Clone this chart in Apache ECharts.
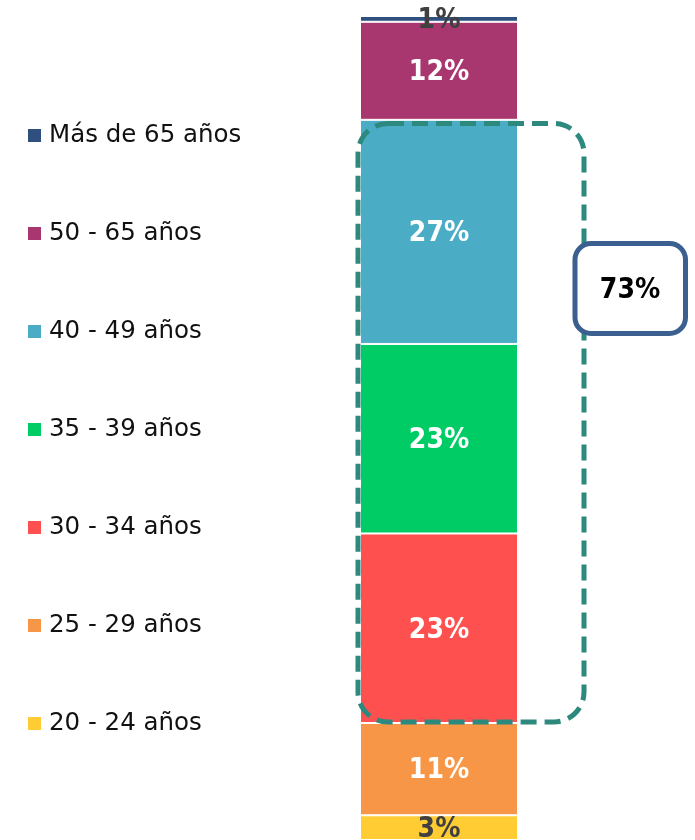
<!DOCTYPE html>
<html>
<head>
<meta charset="utf-8">
<script src="https://cdn.jsdelivr.net/npm/echarts@6/dist/echarts.min.js"></script>
<style>
  html, body { margin: 0; padding: 0; background: #fff; }
  #chart { width: 695px; height: 840px; }
</style>
</head>
<body>
<div id="chart"></div>
<script>
// age groups, bottom of the stack first
const groups = ['20 - 24 años', '25 - 29 años', '30 - 34 años', '35 - 39 años', '40 - 49 años', '50 - 65 años', 'Más de 65 años'];
const shares = [3.0, 11.2, 23.0, 23.0, 27.2, 11.9, 0.7];
const colors = ['#FFCD33', '#F79646', '#FF5050', '#00CC66', '#4BACC6', '#A9376F', '#2F4F7F'];
const darkLabel = ['20 - 24 años', 'Más de 65 años'];
// groups inside the dashed bracket
const bracketGroups = ['30 - 34 años', '35 - 39 años', '40 - 49 años'];

const FONT = 'DejaVu Sans';
const LABEL_FONT = 'DejaVu Sans Condensed';
const bracketTotal = bracketGroups
  .map(g => Math.round(shares[groups.indexOf(g)]))
  .reduce((a, b) => a + b, 0);

const chart = echarts.init(document.getElementById('chart'));

const series = groups.map((name, i) => ({
  name,
  type: 'bar',
  stack: 'total',
  barWidth: '100%',
  data: [shares[i]],
  itemStyle: { color: colors[i], borderColor: '#fff', borderWidth: 1 },
  label: {
    show: true,
    position: 'inside',
    offset: [0, 2],
    formatter: p => Math.round(p.value) + '%',
    color: darkLabel.includes(name) ? '#404040' : '#fff',
    fontFamily: LABEL_FONT,
    fontWeight: 'bold',
    fontSize: 28
  },
  emphasis: { disabled: true }
}));

chart.setOption({
  animation: false,
  grid: { left: 360, top: 16, width: 158, height: 825 },
  xAxis: { type: 'category', data: [''], show: false },
  yAxis: { type: 'value', min: 0, max: 100, show: false },
  legend: {
    orient: 'vertical',
    left: 26,
    top: 123,
    padding: 0,
    itemGap: 73,
    itemWidth: 15,
    itemHeight: 15,
    icon: 'rect',
    selectedMode: false,
    data: groups.slice().reverse(),
    textStyle: {
      fontFamily: FONT,
      fontSize: 24.5,
      lineHeight: 24,
      color: '#111',
      padding: [0, 0, 0, 2]
    }
  },
  series,
  graphic: [
    {
      type: 'rect',
      z: 100,
      shape: { x: 358, y: 123.5, width: 226, height: 598.5, r: 30 },
      style: { fill: 'none', stroke: '#2D897E', lineWidth: 5, lineDash: [16, 8] }
    },
    {
      type: 'rect',
      z: 101,
      shape: { x: 575, y: 243.5, width: 110.5, height: 90, r: 16 },
      style: { fill: '#fff', stroke: '#3B5F8F', lineWidth: 5 }
    },
    {
      type: 'text',
      z: 102,
      x: 630,
      y: 291,
      style: {
        text: bracketTotal + '%',
        fill: '#000',
        font: 'bold 28px "' + LABEL_FONT + '"',
        align: 'center',
        verticalAlign: 'middle'
      }
    }
  ]
});
</script>
</body>
</html>
